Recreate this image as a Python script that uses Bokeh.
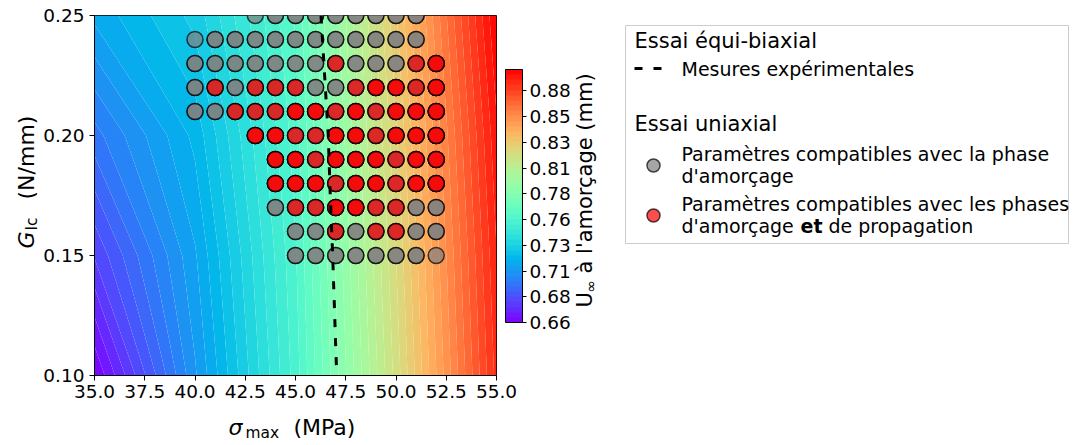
import numpy as np
from bokeh.plotting import figure
from bokeh.layouts import row, column
from bokeh.models import (Range1d, FixedTicker, ColorBar, LinearColorMapper,
                          PrintfTickFormatter)
from bokeh.core.properties import value
from bokeh.embed import file_html
from bokeh.resources import INLINE

# ---------------- data ----------------
# coarse field of U_inf at initiation (mm) on (sigma_max, G_Ic) nodes
grid_sigma = [35.0, 40.0, 45.0, 50.0, 55.0]
grid_G = [0.10, 0.15, 0.20, 0.25]
U_grid = [
    [0.660, 0.708, 0.755, 0.818, 0.886],   # G = 0.10
    [0.680, 0.713, 0.757, 0.821, 0.889],   # G = 0.15
    [0.697, 0.720, 0.760, 0.825, 0.893],   # G = 0.20
    [0.715, 0.730, 0.763, 0.830, 0.899],   # G = 0.25
]

# experimental measurement iso-line (equi-biaxial test)
exp_sigma = [46.27, 46.45, 46.63, 46.73, 46.85, 46.95, 47.05]
exp_G = [0.25, 0.225, 0.20, 0.175, 0.15, 0.125, 0.10]

# uniaxial test : tested parameter rows
row_G = [0.25, 0.24, 0.23, 0.22, 0.21, 0.20, 0.19, 0.18, 0.17, 0.16, 0.15]
init_rows = [   # compatible with initiation phase
    [43, 44, 45, 46, 47, 48, 49, 50, 51],
    [40, 41, 42, 43, 44, 45, 46, 47, 48, 49, 50, 51],
    [40, 41, 42, 43, 44, 45, 46, 47, 48, 49, 50, 51, 52],
    [40, 41, 42, 43, 44, 45, 46, 47, 48, 49, 50, 51, 52],
    [40, 41, 42, 43, 44, 45, 46, 47, 48, 49, 50, 51, 52],
    [43, 44, 45, 46, 47, 48, 49, 50, 51, 52],
    [44, 45, 46, 47, 48, 49, 50, 51, 52],
    [44, 45, 46, 47, 48, 49, 50, 51, 52],
    [44, 45, 46, 47, 48, 49, 50, 51, 52],
    [45, 46, 47, 48, 49, 50, 51, 52],
    [45, 46, 47, 48, 49, 50, 51, 52],
]
init_single = [(43, 0.25), (40, 0.24), (52, 0.15)]   # appear in only one run
prop_rows = [   # compatible with initiation AND propagation
    [],
    [],
    [47, 51, 52],
    [41, 43, 44, 45, 48, 49, 50, 51, 52],
    [42, 43, 44, 45, 46, 47, 48, 49, 50, 51, 52],
    [43, 44, 45, 46, 47, 48, 49, 50, 51, 52],
    [44, 45, 46, 47, 48, 49, 50, 51, 52],
    [44, 45, 46, 47, 48, 49, 50, 51, 52],
    [45, 46, 47, 48, 49, 50],
    [47, 49, 50],
    [],
]
prop_repeat_rows = [   # found in two runs
    [],
    [],
    [52],
    [49, 50, 52],
    [45, 46, 48, 50, 51, 52],
    [43, 44, 47, 48, 50, 51, 52],
    [44, 45, 47, 48, 49, 51, 52],
    [44, 45, 46, 48, 49, 51, 52],
    [47, 48],
    [],
    [],
]

x_ticks = [35.0, 37.5, 40.0, 42.5, 45.0, 47.5, 50.0, 52.5, 55.0]
x_tick_labels = ["35.0", "37.5", "40.0", "42.5", "45.0", "47.5", "50.0", "52.5", "55.0"]
y_ticks = [0.10, 0.15, 0.20, 0.25]
y_tick_labels = ["0.10", "0.15", "0.20", "0.25"]
cb_tick_labels = ["0.66", "0.68", "0.71", "0.73", "0.76", "0.78", "0.81", "0.83", "0.85", "0.88"]
cb_tick_step = 0.0243

# ---------------- helpers ----------------
def flatten(rows, gs):
    xs, ys = [], []
    for r, g in zip(rows, gs):
        for s in r:
            xs.append(float(s)); ys.append(g)
    return xs, ys

def rainbow(t):
    r = min(1.0, abs(2 * t - 0.5))
    g = np.sin(np.pi * t)
    b = np.cos(np.pi * t / 2)
    return "#%02x%02x%02x" % (int(round(r * 255)), int(round(g * 255)), int(round(b * 255)))

Z = np.array(U_grid)
vmin, vmax = float(Z.min()), float(Z.max())
levels = list(np.linspace(vmin, vmax, 50))
nb = len(levels) - 1
band_colors = [rainbow((i + 0.5) / nb) for i in range(nb)]

FONT = "DejaVu Sans"
TOP, BOTTOM = 15, 34          # borders shared by the row of figures (frame = y 15..375)


def canvas(x0, x1, y0, y1, fw, fh, top=TOP, bottom=BOTTOM):
    """figure whose data coordinates equal page pixels"""
    f = figure(frame_width=fw, frame_height=fh, x_range=Range1d(x0, x1),
               y_range=Range1d(y1, y0), min_border_left=0, min_border_right=0,
               min_border_top=top, min_border_bottom=bottom,
               output_backend="svg", toolbar_location=None,
               x_axis_location=None, y_axis_location=None)
    f.xgrid.visible = False
    f.ygrid.visible = False
    f.outline_line_color = None
    return f


def txt(f, x, y, text, size, style="normal", angle=0.0):
    f.text(x=[x], y=[y], text=[text], text_font=value(FONT), text_font_size=size,
           text_font_style=style, text_baseline="middle", text_align="left",
           text_color="black", angle=angle)

# ---------------- y label figure ----------------
ylab = canvas(0, 40, 15, 375, 40, 360)
txt(ylab, 26, 248, "G", "22px", style="italic", angle=np.pi / 2)
txt(ylab, 31, 230, "Ic", "15.4px", angle=np.pi / 2)
txt(ylab, 26, 199, "(N/mm)", "22px", angle=np.pi / 2)

# ---------------- main figure ----------------
p = figure(frame_width=402, frame_height=360,
           min_border_left=53, min_border_right=77, min_border_top=TOP, min_border_bottom=BOTTOM,
           x_range=Range1d(35, 55), y_range=Range1d(0.10, 0.25),
           output_backend="svg", toolbar_location=None)
p.xgrid.visible = False
p.ygrid.visible = False
p.outline_line_color = "black"
p.outline_line_width = 1

p.contour(grid_sigma, grid_G, Z, levels, fill_color=band_colors, line_color=None)

ix, iy = flatten(init_rows, row_G)
single_set = {(int(s), g) for s, g in init_single}
ix2, iy2 = [], []
for a, b in zip(ix, iy):
    if (int(a), b) not in single_set:
        ix2.append(a); iy2.append(b)
px, py = flatten(prop_rows, row_G)
rx, ry = flatten(prop_repeat_rows, row_G)

mk = dict(marker="circle", size=16, line_color="black", line_width=1.5,
          fill_alpha=0.7, line_alpha=0.7)
p.scatter(ix, iy, fill_color="gray", **mk)
p.scatter(ix2, iy2, fill_color="gray", **mk)
p.scatter(px, py, fill_color="red", **mk)
p.scatter(rx, ry, fill_color="red", **mk)

p.line(exp_sigma, exp_G, line_color="black", line_width=3, line_dash="8 11")

p.xaxis.ticker = FixedTicker(ticks=x_ticks)
p.xaxis.formatter = PrintfTickFormatter(format="%.1f")
p.xaxis.major_label_overrides = {t: l for t, l in zip(x_ticks, x_tick_labels)}
p.yaxis.ticker = FixedTicker(ticks=y_ticks)
p.yaxis.formatter = PrintfTickFormatter(format="%.2f")
p.yaxis.major_label_overrides = {t: l for t, l in zip(y_ticks, y_tick_labels)}
for ax in (p.xaxis, p.yaxis):
    ax.major_tick_out = 5
    ax.major_tick_in = 0
    ax.minor_tick_line_color = None
    ax.major_tick_line_color = "black"
    ax.axis_line_color = "black"
    ax.major_label_text_font = FONT
    ax.major_label_text_font_size = "18.5px"
    ax.major_label_text_color = "black"
p.xaxis.major_label_standoff = 4
p.yaxis.major_label_standoff = 5

mapper = LinearColorMapper(palette=band_colors, low=vmin, high=vmax)
cb_ticks = [vmin + k * cb_tick_step for k in range(len(cb_tick_labels))]
cb = ColorBar(color_mapper=mapper, orientation="vertical", width=17, height=253,
              location=(9, 53), padding=0, margin=0,
              ticker=FixedTicker(ticks=cb_ticks),
              formatter=PrintfTickFormatter(format="%.2f"),
              major_label_overrides={t: l for t, l in zip(cb_ticks, cb_tick_labels)},
              major_tick_out=4, major_tick_in=0, major_tick_line_color="black",
              minor_tick_line_color=None, bar_line_color="black", bar_line_width=1,
              label_standoff=3, major_label_text_font=FONT,
              major_label_text_font_size="18.5px", major_label_text_color="black",
              background_fill_color=None, border_line_color=None)
p.add_layout(cb, "right")

# ---------------- colour-bar title + legend figure ----------------
q = canvas(572, 1073, 15, 375, 501, 360)
txt(q, 583, 307, "U", "21px", angle=np.pi / 2)
txt(q, 589, 292, "∞", "14.7px", angle=np.pi / 2)
txt(q, 583, 273, "à l'amorçage (mm)", "21px", angle=np.pi / 2)

q.quad(left=[624], right=[1067], top=[25], bottom=[243], fill_color="white",
       line_color="#cccccc", line_width=1)
txt(q, 633, 40, "Essai équi-biaxial", "21px")
q.line([633, 660], [68, 68], line_color="black", line_width=3, line_dash="8 11")
txt(q, 680, 68, "Mesures expérimentales", "19px")
txt(q, 633, 123, "Essai uniaxial", "21px")
q.scatter([652], [165], marker="circle", size=13, fill_color="gray", fill_alpha=0.7,
          line_color="black", line_alpha=0.7, line_width=1.5)
txt(q, 680, 153, "Paramètres compatibles avec la phase", "19px")
txt(q, 680, 175, "d'amorçage", "19px")
q.scatter([652], [215], marker="circle", size=13, fill_color="red", fill_alpha=0.7,
          line_color="black", line_alpha=0.7, line_width=1.5)
txt(q, 680, 203, "Paramètres compatibles avec les phases", "19px")
txt(q, 680, 225, "d'amorçage", "19px")
txt(q, 799, 225, "et", "19px", style="bold")
txt(q, 827, 225, "de propagation", "19px")

# ---------------- x label figure ----------------
xlab = canvas(0, 1073, 409, 445, 1073, 36, top=0, bottom=0)
txt(xlab, 228, 427, "σ", "22px", style="italic")
txt(xlab, 245, 432, "max", "15.4px")
txt(xlab, 293, 427, "(MPa)", "22px")

layout = column(row(ylab, p, q), xlab)
open("out.html", "w").write(file_html(layout, INLINE))
